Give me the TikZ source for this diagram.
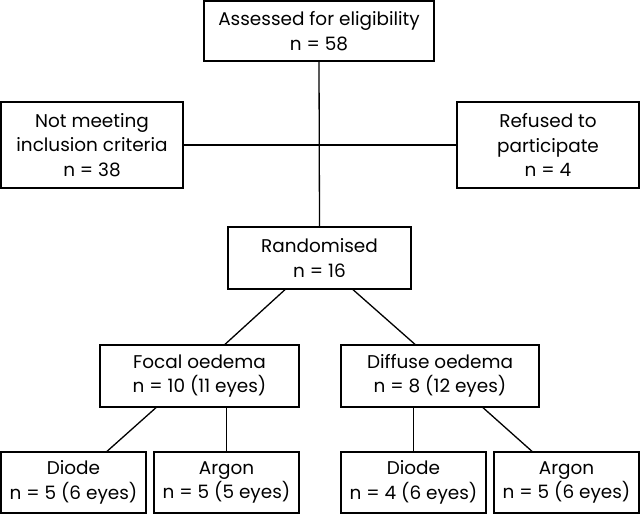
\documentclass[tikz,border=0pt]{standalone}
\usepackage{fontspec}
\setmainfont{Poppins}
\usetikzlibrary{calc}
\begin{document}
\begin{tikzpicture}[x=1bp,y=-1bp,
  box/.style={draw=black, line width=1.3bp, align=center, inner sep=0pt,
    font=\fontsize{18.5}{24.5}\selectfont, text=black},
  link/.style={draw=black, line width=1.3bp}]
\useasboundingbox (0,0) rectangle (640,514);
\node[box, minimum width=230bp, minimum height=60bp] (top) at (319,31) {Assessed for eligibility\\n = 58};
\node[box, minimum width=182bp, minimum height=86bp] (left) at (92,145) {Not meeting\\inclusion criteria\\n = 38};
\node[box, minimum width=182bp, minimum height=86bp] (right) at (548,145) {Refused to\\participate\\n = 4};
\node[box, minimum width=183bp, minimum height=62bp] (rand) at (319.5,258) {Randomised\\n = 16};
\node[box, minimum width=199bp, minimum height=62bp] (focal) at (199.5,376) {Focal oedema\\n = 10 (11 eyes)};
\node[box, minimum width=198bp, minimum height=62bp] (diff) at (440,376) {Diffuse oedema\\n = 8 (12 eyes)};
\node[box, minimum width=145bp, minimum height=61bp] (d1) at (73.5,482.5) {Diode\\n = 5 (6 eyes)};
\node[box, minimum width=145bp, minimum height=61bp] (a1) at (226.5,482.5) {Argon\\n = 5 (5 eyes)};
\node[box, minimum width=145bp, minimum height=61bp] (d2) at (413.5,482.5) {Diode\\n = 4 (6 eyes)};
\node[box, minimum width=145bp, minimum height=61bp] (a2) at (566.5,482.5) {Argon\\n = 5 (6 eyes)};
\draw[link] (top.south) -- (rand.north);
\draw[link] (left.east) -- (right.west);
\draw[link] ($(rand.south)+(-34.5,0)$) -- ($(focal.north)+(25.5,0)$);
\draw[link] ($(rand.south)+(33.5,0)$) -- ($(diff.north)+(-25,0)$);
\draw[link] ($(focal.south)+(-43.5,0)$) -- ($(d1.north)+(33.5,0)$);
\draw[link] (a1.north) -- (a1.north |- focal.south);
\draw[link] (d2.north) -- (d2.north |- diff.south);
\draw[link] ($(diff.south)+(43,0)$) -- ($(a2.north)+(-34.5,0)$);
\end{tikzpicture}
\end{document}
